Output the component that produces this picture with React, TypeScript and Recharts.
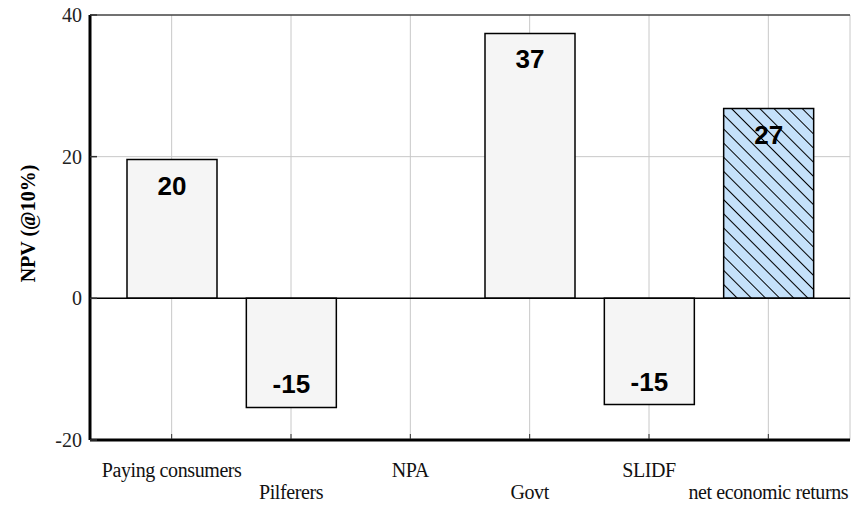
import React from 'react';
import { BarChart, Bar, XAxis, YAxis, CartesianGrid, ReferenceLine, Cell, LabelList, Label } from 'recharts';

const categories = ['Paying consumers', 'Pilferers', 'NPA', 'Govt', 'SLIDF', 'net economic returns'];
const npv = [19.6, -15.4, 0, 37.4, -15.0, 26.8];
const yTicks = [-20, 0, 20, 40];

const data = categories.map((name, i) => ({ name, npv: npv[i] }));

const serif = "'Liberation Serif', 'Times New Roman', Times, serif";

function XTick(props: any) {
  const { x, y, payload, index } = props;
  return (
    <g>
      <line x1={x} y1={y - 1} x2={x} y2={y - 6} stroke="#333" strokeWidth={1} />
      <text
        x={x}
        y={y + (index % 2 === 0 ? 37 : 59)}
        textAnchor="middle"
        style={{ fontFamily: serif, fontSize: 20, letterSpacing: -0.4 }}
        fill="#111"
      >
        {payload.value}
      </text>
    </g>
  );
}

function YTick(props: any) {
  const { x, y, payload } = props;
  return (
    <g>
      <line x1={x} y1={y} x2={x + 7} y2={y} stroke="#333" strokeWidth={1.5} />
      <text x={x - 8} y={y} dy={7} textAnchor="end" style={{ fontFamily: serif, fontSize: 20 }} fill="#222">
        {payload.value}
      </text>
    </g>
  );
}

function ValueLabel(props: any) {
  const { x, y, width, height, value } = props;
  if (!value) return null;
  const top = Math.min(y, y + height);
  const bottom = Math.max(y, y + height);
  const ty = value > 0 ? top + 35 : bottom - 14;
  return (
    <text
      x={x + width / 2}
      y={ty}
      textAnchor="middle"
      style={{ fontFamily: "'Liberation Sans', Arial, sans-serif", fontWeight: 'bold', fontSize: 26 }}
      fill="#000"
    >
      {Math.round(value)}
    </text>
  );
}

export default function App() {
  return (
    <div style={{ position: 'absolute', left: 0, top: 0, background: '#fff' }}>
      <BarChart width={852} height={507} data={data} margin={{ top: 15, right: 2, left: 0, bottom: 0 }}>
        <defs>
          <pattern id="hatch" width="10" height="10" patternUnits="userSpaceOnUse" patternTransform="rotate(-45)">
            <rect width="10" height="10" fill="#c5e1fa" />
            <line x1="0" y1="0" x2="0" y2="10" stroke="#000" strokeWidth="2" />
          </pattern>
        </defs>
        <CartesianGrid stroke="#c8c8c8" strokeWidth={1} />
        <XAxis
          dataKey="name"
          interval={0}
          height={67}
          padding={{ left: 22, right: 22 }}
          tickSize={0}
          tickMargin={0}
          tick={<XTick />}
          axisLine={{ stroke: '#000', strokeWidth: 3 }}
        />
        <YAxis
          width={90}
          domain={[-20, 40]}
          ticks={yTicks}
          tickSize={0}
          tickMargin={0}
          tick={<YTick />}
          axisLine={{ stroke: '#000', strokeWidth: 3 }}
        >
          <Label
            content={({ viewBox }: any) => {
              const cx = viewBox.x + 28;
              const cy = viewBox.y + viewBox.height / 2 - 4;
              return (
                <text
                  x={cx}
                  y={cy}
                  transform={`rotate(-90 ${cx} ${cy})`}
                  textAnchor="middle"
                  dominantBaseline="central"
                  style={{ fontFamily: serif, fontWeight: 'bold', fontSize: 20 }}
                  fill="#000"
                >
                  NPV (@10%)
                </text>
              );
            }}
          />
        </YAxis>
        <ReferenceLine y={40} stroke="#000" strokeWidth={1} />
        <ReferenceLine y={0} stroke="#000" strokeWidth={1.5} />
        <Bar dataKey="npv" barSize={90} stroke="#000" strokeWidth={1.5} isAnimationActive={false}>
          {data.map((d, i) => (
            <Cell key={d.name} fill={i === data.length - 1 ? 'url(#hatch)' : '#f5f5f5'} />
          ))}
          <LabelList dataKey="npv" content={<ValueLabel />} />
        </Bar>
      </BarChart>
    </div>
  );
}
